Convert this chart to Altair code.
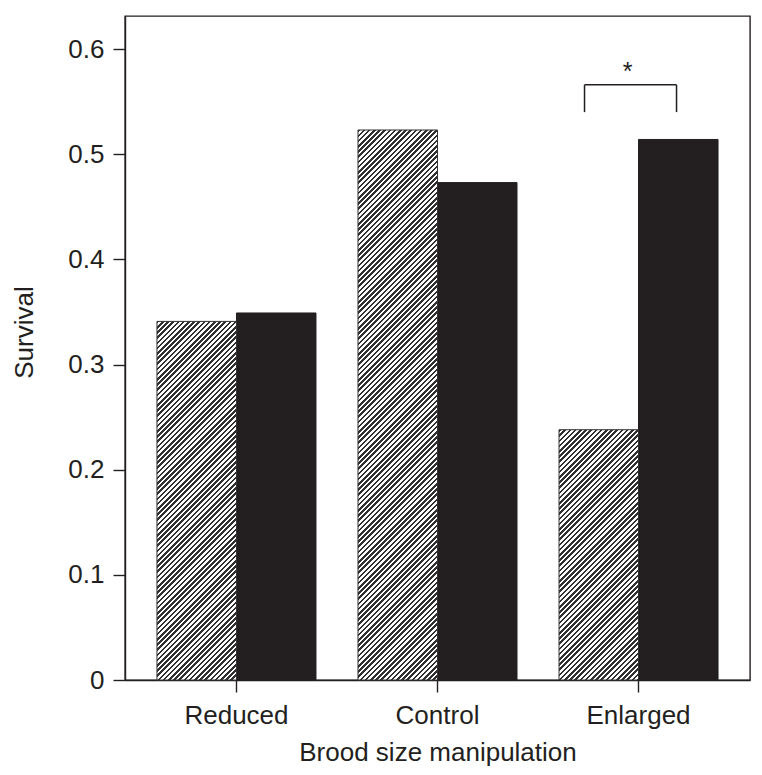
import altair as alt
import pandas as pd

# ---- data ----
groups = ["Reduced", "Control", "Enlarged"]
series = ["Hatched", "Solid"]
hatched_vals = [0.341, 0.523, 0.238]
solid_vals = [0.349, 0.473, 0.514]

bracket_group = ["Enlarged"]
bracket_low = [0.540]
bracket_high = [0.566]
star_level = [0.571]
star_text = ["*"]

y_ticks = [0.0, 0.1, 0.2, 0.3, 0.4, 0.5, 0.6]

# ---- layout / style ----
W, H = 625, 664
YMAX = 0.6314
P_INNER, P_OUTER = 0.209, 0.159
INK = "#231f20"
FONT = "Liberation Sans"

rows = []
for g, a, b in zip(groups, hatched_vals, solid_vals):
    rows.append({"group": g, "series": series[0], "value": a})
    rows.append({"group": g, "series": series[1], "value": b})
df = pd.DataFrame(rows)

bdf = pd.DataFrame({"group": bracket_group, "lo": bracket_low,
                    "hi": bracket_high, "star": star_level, "txt": star_text})

step = W / (len(groups) - P_INNER + 2 * P_OUTER)
bar_w = step * (1 - P_INNER) / 2


def hatch(value, period=5.2, frac=0.5, ink="#303030", paper="#ffffff"):
    h = value / YMAX * H
    w = bar_w
    denom = w * w + h * h
    stops = []
    c = 0.0
    while c < w + h + period:
        t0 = min(1.0, c * w / denom)
        t1 = min(1.0, (c + frac * period) * w / denom)
        t2 = min(1.0, (c + period) * w / denom)
        stops += [
            {"offset": round(t0, 6), "color": ink},
            {"offset": round(t1, 6), "color": ink},
            {"offset": round(t1, 6), "color": paper},
            {"offset": round(t2, 6), "color": paper},
        ]
        c += period
    return {"gradient": "linear", "x1": 0, "y1": 0, "x2": 1, "y2": h / w,
            "stops": stops}


x_axis = alt.Axis(title="Brood size manipulation", labelBaseline="alphabetic",
                  labelPadding=31, titleBaseline="alphabetic", titleY=80,
                  labelAngle=0)
y_axis = alt.Axis(title="Survival", values=y_ticks,
                  labelExpr="datum.value == 0 ? '0' : format(datum.value, '.1f')",
                  labelPadding=9, titleX=-93, titleY=316, titleAngle=270,
                  titleAlign="center", titleBaseline="alphabetic")

xs = alt.Scale(domain=groups, paddingInner=P_INNER, paddingOuter=P_OUTER)
ys = alt.Scale(domain=[0, YMAX], nice=False, zero=True)
xo = alt.XOffset("series:N", scale=alt.Scale(domain=series, paddingInner=0, paddingOuter=0))


def X():
    return alt.X("group:N", scale=xs, axis=x_axis, sort=groups)


base = alt.Chart(df)

solid = base.transform_filter(alt.datum.series == series[1]).mark_bar(
    fill=INK, stroke=INK, strokeWidth=1
).encode(x=X(), xOffset=xo, y=alt.Y("value:Q", scale=ys, axis=y_axis))

layers = [solid]
for g, v in zip(groups, hatched_vals):
    layers.append(
        base.transform_filter((alt.datum.series == series[0]) & (alt.datum.group == g))
        .mark_bar(fill=hatch(v), stroke="#333333", strokeWidth=1)
        .encode(x=X(), xOffset=xo, y=alt.Y("value:Q", scale=ys, axis=y_axis))
    )

bb = alt.Chart(bdf)
hline = bb.mark_rule(color=INK, strokeWidth=1.5, xOffset=-54, x2Offset=38).encode(
    x=X(), x2=alt.X2("group:N"), y=alt.Y("hi:Q", scale=ys, axis=y_axis))
vleft = bb.mark_rule(color=INK, strokeWidth=1.5, xOffset=-54).encode(
    x=X(), y=alt.Y("lo:Q", scale=ys, axis=y_axis), y2=alt.Y2("hi:Q"))
vright = bb.mark_rule(color=INK, strokeWidth=1.5, xOffset=38).encode(
    x=X(), y=alt.Y("lo:Q", scale=ys, axis=y_axis), y2=alt.Y2("hi:Q"))
star = bb.mark_text(font=FONT, fontSize=25, color=INK, xOffset=-11,
                    baseline="alphabetic").encode(
    x=X(), y=alt.Y("star:Q", scale=ys, axis=y_axis), text="txt:N")

layers += [hline, vleft, vright, star]

chart = alt.layer(*layers).properties(
    width=W, height=H,
    autosize=alt.AutoSizeParams(type="none"),
    padding={"left": 117, "top": 8, "right": 3, "bottom": 92},
    background="white",
).configure_view(
    stroke=INK, strokeWidth=1.4
).configure_axis(
    grid=False, domainColor=INK, domainWidth=1.4, tickColor=INK, tickWidth=1.4,
    tickSize=12, labelColor=INK, titleColor=INK, labelFont=FONT, titleFont=FONT,
    labelFontSize=26, titleFontSize=26, titleFontWeight="normal"
)

chart.save("out.html", embed_options={"renderer": "svg", "actions": False})
